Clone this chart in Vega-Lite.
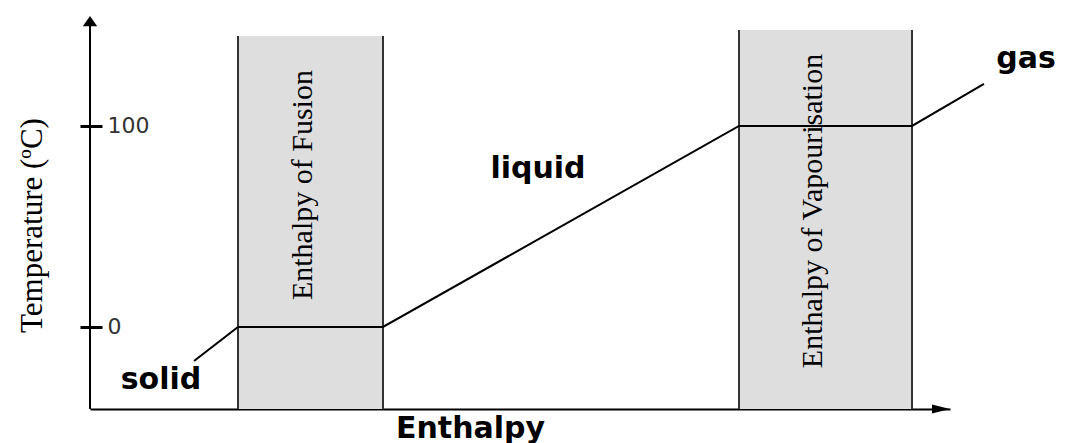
{
  "$schema": "https://vega.github.io/schema/vega-lite/v6.json",
  "autosize": {"type": "none"},
  "padding": {"left": 90, "top": 17, "right": 115, "bottom": 34},
  "width": 860,
  "height": 392,
  "background": "white",
  "datasets": {
    "phases": [
      {"label": "Enthalpy of Fusion", "x1": 14.8, "x2": 29.3, "top": 144.7, "cx": 21.3, "cy": 70.6},
      {"label": "Enthalpy of Vapourisation", "x1": 64.9, "x2": 82.2, "top": 147.7, "cx": 72.3, "cy": 57.7}
    ],
    "curve": [
      {"H": 10.4, "T": -16.9},
      {"H": 14.8, "T": 0},
      {"H": 29.3, "T": 0},
      {"H": 64.9, "T": 100},
      {"H": 82.2, "T": 100},
      {"H": 89.4, "T": 120.9}
    ],
    "states": [
      {"label": "solid", "H": 7.1, "T": -30.85},
      {"label": "liquid", "H": 44.8, "T": 74.3},
      {"label": "gas", "H": 93.6, "T": 128.8}
    ],
    "one": [{"n": 1}]
  },
  "layer": [
    {
      "data": {"name": "phases"},
      "mark": {"type": "rect", "fill": "#dedede", "stroke": null},
      "encoding": {
        "x": {"field": "x1", "type": "quantitative", "title": "Enthalpy",
              "scale": {"domain": [0, 86], "nice": false, "zero": false}},
        "x2": {"field": "x2"},
        "y": {"field": "top", "type": "quantitative", "title": "Temperature (ºC)",
              "scale": {"domain": [-40.8, 154.2], "nice": false, "zero": false},
              "axis": {"values": [0, 100]}},
        "y2": {"datum": -40.8}
      }
    },
    {
      "data": {"name": "phases"},
      "mark": {"type": "rule", "stroke": "#333", "strokeWidth": 2},
      "encoding": {
        "x": {"field": "x1", "type": "quantitative", "title": "Enthalpy"},
        "y": {"field": "top", "type": "quantitative", "title": "Temperature (ºC)"},
        "y2": {"datum": -40.8}
      }
    },
    {
      "data": {"name": "phases"},
      "mark": {"type": "rule", "stroke": "#333", "strokeWidth": 2},
      "encoding": {
        "x": {"field": "x2", "type": "quantitative", "title": "Enthalpy"},
        "y": {"field": "top", "type": "quantitative", "title": "Temperature (ºC)"},
        "y2": {"datum": -40.8}
      }
    },
    {
      "data": {"name": "one"},
      "mark": {"type": "rule", "stroke": "#000", "strokeWidth": 2},
      "encoding": {
        "x": {"datum": 0, "type": "quantitative", "title": "Enthalpy"},
        "y": {"datum": -40.8, "type": "quantitative", "title": "Temperature (ºC)"},
        "y2": {"datum": 152}
      }
    },
    {
      "data": {"name": "curve"},
      "mark": {"type": "line", "stroke": "#000", "strokeWidth": 2},
      "encoding": {
        "x": {"field": "H", "type": "quantitative", "title": "Enthalpy"},
        "y": {"field": "T", "type": "quantitative", "title": "Temperature (ºC)"}
      }
    },
    {
      "data": {"name": "one"},
      "mark": {"type": "point", "shape": "M0,-1L1.2,0.7L-1.2,0.7Z", "filled": true, "fill": "#000", "stroke": null, "size": 144, "opacity": 1},
      "encoding": {
        "x": {"datum": 0, "type": "quantitative", "title": "Enthalpy"},
        "y": {"datum": 151.7, "type": "quantitative", "title": "Temperature (ºC)"}
      }
    },
    {
      "data": {"name": "one"},
      "mark": {"type": "point", "shape": "M1,0L-1,-0.5L-1,0.5Z", "filled": true, "fill": "#000", "stroke": null, "size": 324, "opacity": 1},
      "encoding": {
        "x": {"datum": 85.1, "type": "quantitative", "title": "Enthalpy"},
        "y": {"datum": -40.8, "type": "quantitative", "title": "Temperature (ºC)"}
      }
    },
    {
      "data": {"name": "phases"},
      "mark": {"type": "text", "font": "Liberation Serif", "fontSize": 30, "angle": 270, "align": "center", "baseline": "middle", "fill": "#000"},
      "encoding": {
        "x": {"field": "cx", "type": "quantitative", "title": "Enthalpy"},
        "y": {"field": "cy", "type": "quantitative", "title": "Temperature (ºC)"},
        "text": {"field": "label"}
      }
    },
    {
      "data": {"name": "states"},
      "mark": {"type": "text", "font": "DejaVu Sans", "fontSize": 30, "fontWeight": "bold", "align": "center", "baseline": "alphabetic", "fill": "#000"},
      "encoding": {
        "x": {"field": "H", "type": "quantitative", "title": "Enthalpy"},
        "y": {"field": "T", "type": "quantitative", "title": "Temperature (ºC)"},
        "text": {"field": "label"}
      }
    }
  ],
  "config": {
    "view": {"stroke": null},
    "axis": {"grid": false, "zindex": 1},
    "axisX": {
      "domainColor": "#000", "domainWidth": 2, "ticks": false, "labels": false,
      "titleFont": "DejaVu Sans", "titleFontSize": 30, "titleFontWeight": "bold", "titleColor": "#000",
      "titleX": 380, "titleY": 28, "titleAlign": "center", "titleBaseline": "alphabetic"
    },
    "axisY": {
      "domain": false, "offset": -12, "tickSize": 22, "tickWidth": 3, "tickColor": "#000",
      "labelAlign": "left", "labelPadding": -27, "labelFont": "DejaVu Sans", "labelFontSize": 22,
      "labelColor": "#333", "labelBaseline": "middle",
      "titleFont": "Liberation Serif", "titleFontSize": 31, "titleFontWeight": "normal", "titleColor": "#000",
      "titleAngle": 270, "titleX": -70, "titleY": 208, "titleAlign": "center", "titleBaseline": "middle"
    }
  }
}
